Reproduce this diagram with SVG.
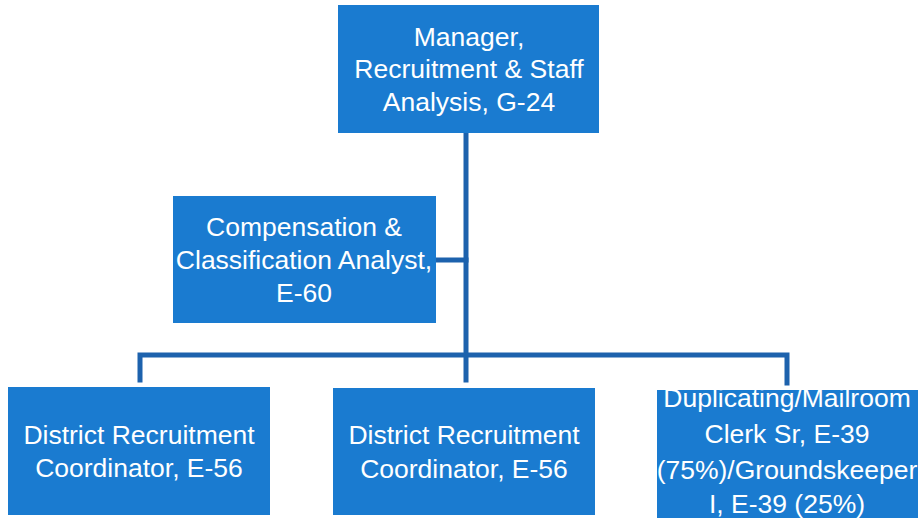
<svg xmlns="http://www.w3.org/2000/svg" width="924" height="518" viewBox="0 0 924 518">
<style>
.box{fill:#1a7bd0;}
.lbl{font-family:"Liberation Sans",Arial,sans-serif;font-size:26.5px;fill:#ffffff;text-anchor:middle;}
.conn{stroke:#1d62ad;stroke-width:5;fill:none;stroke-linecap:square;}
</style>
<rect width="924" height="518" fill="#ffffff"/>
<g id="connectors">
<path class="conn" d="M466,133 V380"/>
<path class="conn" d="M436,260 H466"/>
<path class="conn" d="M140,380 V355 H787 V383"/>
</g>
<g id="manager">
<rect class="box" x="338" y="5" width="261" height="128"/>
<text class="lbl" x="469" y="46">Manager,</text>
<text class="lbl" x="469" y="78">Recruitment &amp; Staff</text>
<text class="lbl" x="469" y="111">Analysis, G-24</text>
</g>
<g id="compensation">
<rect class="box" x="173" y="196" width="263" height="127"/>
<text class="lbl" x="304" y="236">Compensation &amp;</text>
<text class="lbl" x="304" y="269">Classification Analyst,</text>
<text class="lbl" x="304" y="302">E-60</text>
</g>
<g id="district1">
<rect class="box" x="8" y="387" width="262" height="128"/>
<text class="lbl" x="139" y="444">District Recruitment</text>
<text class="lbl" x="139" y="477">Coordinator, E-56</text>
</g>
<g id="district2">
<rect class="box" x="333" y="388" width="262" height="127"/>
<text class="lbl" x="464" y="444">District Recruitment</text>
<text class="lbl" x="464" y="478">Coordinator, E-56</text>
</g>
<g id="clerk">
<rect class="box" x="657" y="390" width="261" height="128"/>
<text class="lbl" x="787" y="407">Duplicating/Mailroom</text>
<text class="lbl" x="787" y="443">Clerk Sr, E-39</text>
<text class="lbl" x="787" y="479">(75%)/Groundskeeper</text>
<text class="lbl" x="787" y="513">I, E-39 (25%)</text>
</g>
</svg>
